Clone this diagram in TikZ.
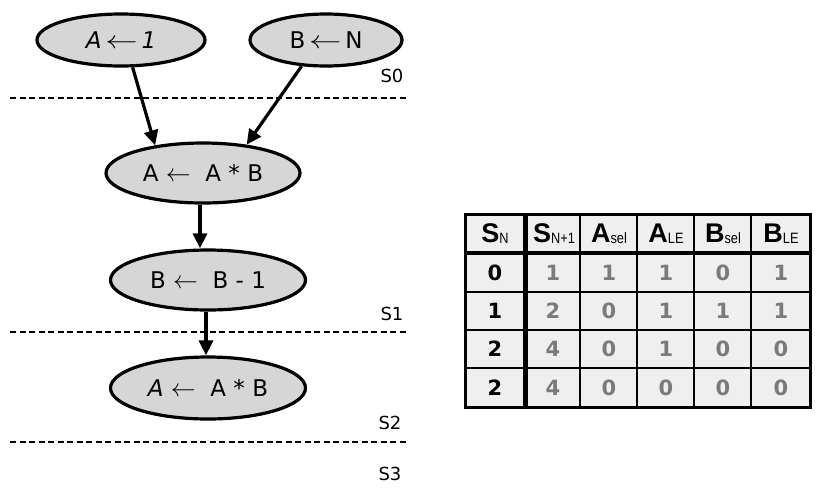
\documentclass[tikz,border=0pt]{standalone}
\usepackage{fontspec}
\setmainfont{DejaVu Sans}
\newfontfamily\tabfont{DejaVu Sans}
\newfontfamily\hdrfont{Liberation Sans}
\newfontfamily\subfont[FakeStretch=0.85]{Liberation Sans}
\usetikzlibrary{shapes.geometric,arrows.meta}
\definecolor{ellfill}{HTML}{D6D6D6}
\definecolor{cellfill}{HTML}{EFEFEF}
\definecolor{valgray}{HTML}{7A7A7A}
\tikzset{
 state/.style={ellipse, draw=black, line width=3.2pt, fill=ellfill, inner sep=0pt, font=\fontsize{23}{23}\selectfont},
 flow/.style={line width=3.2pt, -{Triangle[length=15pt,width=14pt]}},
 sepline/.style={line width=1.3pt, dash pattern=on 6pt off 3.5pt},
 slabel/.style={font=\fontsize{18}{18}\selectfont, inner sep=0pt},
 hdr/.style={font=\hdrfont\bfseries\fontsize{27}{27}\selectfont, inner sep=0pt},
 key/.style={font=\tabfont\bfseries\fontsize{21}{21}\selectfont, inner sep=0pt},
 val/.style={font=\tabfont\bfseries\fontsize{21}{21}\selectfont, text=valgray, inner sep=0pt},
}
\newcommand{\subtxt}[1]{\raisebox{-1pt}{\subfont\mdseries\fontsize{15}{15}\selectfont #1}}
\newcommand{\larr}{\scalebox{1.3}[1]{$\leftarrow$}}
\begin{document}
\begin{tikzpicture}[x=1pt,y=-1pt]
\useasboundingbox (0,0) rectangle (822,491);
% states
\node[state, minimum width=168pt, minimum height=52pt] (a1) at (121,40) {\textit{A}\,\larr\,\textit{1}};
\node[state, minimum width=152pt, minimum height=52pt] (bn) at (326,40) {B\,\larr\,N};
\node[state, minimum width=194pt, minimum height=60pt] (m1) at (203,173) {A $\leftarrow$ \ A * B};
\node[state, minimum width=195pt, minimum height=60pt] (m2) at (208,280) {B $\leftarrow$ \ B - 1};
\node[state, minimum width=195pt, minimum height=62pt] (b2) at (208,388) {\textit{A} $\leftarrow$ \ A * B};
% separators
\coordinate (l0a) at (10,98); \coordinate (l0b) at (408,98);
\coordinate (l1a) at (10,332); \coordinate (l1b) at (408,332);
\coordinate (l2a) at (10,442); \coordinate (l2b) at (408,442);
\draw[sepline] (l0a) -- (l0b);
\draw[sepline] (l1a) -- (l1b);
\draw[sepline] (l2a) -- (l2b);
\node[slabel] (s0) at (392,76) {S0};
\node[slabel] (s1) at (392,314) {S1};
\node[slabel] (s2) at (390,423) {S2};
\node[slabel] (s3) at (390,474) {S3};
% arrows
\draw[flow] (a1.-67) -- (m1.150);
\draw[flow] (bn.-133) -- (m1.33);
\draw[flow] ([xshift=-3pt]m1.south) -- ([xshift=-3pt]m1.south |- m2.north);
\draw[flow] ([xshift=-2pt]m2.south) -- ([xshift=-2pt]b2.north);
% table
\fill[cellfill] (465,214) rectangle (810,407);
\foreach \x in {580,637,694,751} \draw[line width=2.5pt] (\x,214) -- (\x,407);
\foreach \y in {292,330,368} \draw[line width=2.5pt] (465,\y) -- (810,\y);
\draw[line width=5pt] (525,214) -- (525,407);
\draw[line width=4.5pt] (465,253) -- (810,253);
\draw[line width=3pt] (465,214) rectangle (810,407);
% header
\node[hdr] (h1) at (495,234) {S\subtxt{N}};
\node[hdr] (h2) at (554,234) {S\subtxt{N+1}};
\node[hdr] (h3) at (609,234) {A\subtxt{sel}};
\node[hdr] (h4) at (666,234) {A\subtxt{LE}};
\node[hdr] (h5) at (723,234) {B\subtxt{sel}};
\node[hdr] (h6) at (781,234) {B\subtxt{LE}};
% rows
\foreach \r/\y/\k/\a/\b/\c/\d/\e in {1/273/0/1/1/1/0/1, 2/311/1/2/0/1/1/1, 3/349/2/4/0/1/0/0, 4/388/2/4/0/0/0/0}{
 \node[key] (k\r) at (495,\y) {\k};
 \node[val] (c\r a) at (553,\y) {\a};
 \node[val] (c\r b) at (609,\y) {\b};
 \node[val] (c\r c) at (666,\y) {\c};
 \node[val] (c\r d) at (723,\y) {\d};
 \node[val] (c\r e) at (781,\y) {\e};
}
\end{tikzpicture}
\end{document}
